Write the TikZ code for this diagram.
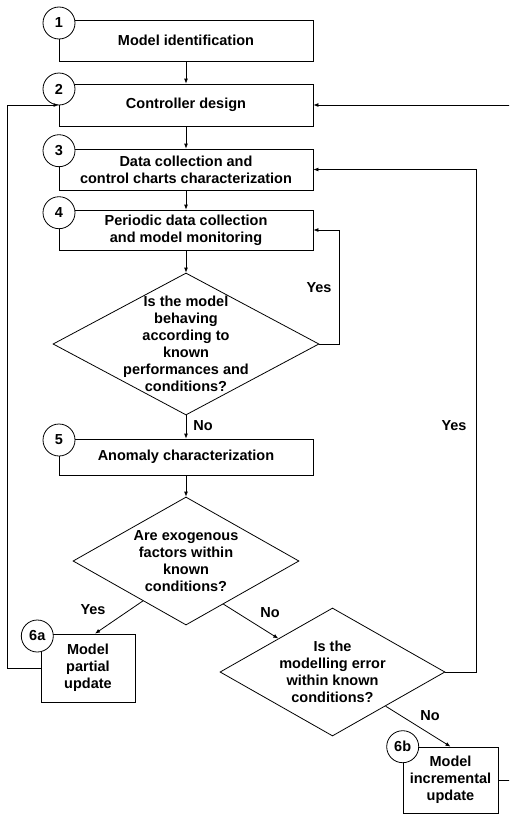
\documentclass[tikz,border=0pt]{standalone}
\usepackage{fontspec}
\setmainfont{Liberation Sans}
\usetikzlibrary{shapes.geometric,arrows.meta,calc}
\tikzset{
  procbox/.style={draw, line width=0.8pt, rectangle, minimum width=254pt, align=center, inner sep=0pt},
  decide/.style={draw, line width=0.8pt, diamond, inner sep=0pt},
  qtext/.style={align=center, inner sep=0pt},
  stepnum/.style={draw, line width=0.8pt, circle, fill=white, minimum size=32pt, inner sep=0pt},
  flow/.style={line width=0.8pt, -{Latex[length=5pt,width=4pt]}},
  answer/.style={inner sep=0pt},
}
\begin{document}
\begin{tikzpicture}[x=1pt, y=-1pt, font=\bfseries\fontsize{14.5}{17}\selectfont]
  \useasboundingbox (0,0) rectangle (509,819);
  \clip (0,0) rectangle (509,819);
  % main steps
  \node[procbox, minimum height=41pt] (b1) at (186,40.5) {Model identification};
  \node[procbox, minimum height=42pt] (b2) at (186,105) {Controller design};
  \node[procbox, minimum height=41pt] (b3) at (186,169.5) {Data collection and\\control charts characterization};
  \node[procbox, minimum height=40pt] (b4) at (186,230) {Periodic data collection\\and model monitoring};
  \node[decide, minimum width=266pt, minimum height=142pt] (q1) at (186,344) {};
  \node[qtext] (q1t) at (q1) {Is the model\\behaving\\according to\\known\\performances and\\conditions?};
  \node[procbox, minimum height=36pt] (b5) at (186,457) {Anomaly characterization};
  \node[decide, minimum width=226pt, minimum height=128pt] (q2) at (186,561) {};
  \node[qtext] (q2t) at (q2) {Are exogenous\\factors within\\known\\conditions?};
  \node[decide, minimum width=225pt, minimum height=128pt] (q3) at (332.5,672) {};
  \node[qtext] (q3t) at (q3) {Is the\\modelling error\\within known\\conditions?};
  \node[procbox, minimum width=94pt, minimum height=68pt] (b6a) at (88,668) {Model\\partial\\update};
  \node[procbox, minimum width=95pt, minimum height=66pt] (b6b) at (450.5,780) {Model\\incremental\\update};
  % step numbers
  \foreach \n/\y in {1/23,2/89,3/150.7,4/212.7,5/440}
    \node[stepnum] (s\n) at (59,\y) {\n};
  \node[stepnum] (s6a) at (37.3,636) {6a};
  \node[stepnum] (s6b) at (402.7,746.7) {6b};
  % connectors
  \draw[flow] (b1) to (b2);
  \draw[flow] (b2) to (b3);
  \draw[flow] (b3) to (b4);
  \draw[flow] (b4) to (q1);
  \draw[flow] (q1.east) -- (339,344) |- (b4.east);
  \node[answer] (yes1) at (319,288) {Yes};
  \draw[flow] (q1) to (b5);
  \node[answer] (no1) at (203,426) {No};
  \draw[flow] (b5) to (q2);
  \draw[flow] ($(q2.west)!0.62!(q2.south)$) to ([xshift=7pt]b6a.north);
  \node[answer] (yes2) at (93,610) {Yes};
  \draw[flow] ($(q2.south)!0.33!(q2.east)$) to ($(q3.west)!0.52!(q3.north)$);
  \node[answer] (no2) at (270,613) {No};
  \draw[flow] (q3.east) -- (476,672) |- (b3.east);
  \node[answer] (yes3) at (454,426) {Yes};
  \draw[flow] ($(q3.south)!0.47!(q3.east)$) to (b6b.north);
  \node[answer] (no3) at (430,716) {No};
  % feedback to controller design
  \draw[flow] (b6a.west) -- (7,668) |- (b2.west);
  \draw[flow] (b6b.east) -- (514,780) |- (b2.east);
\end{tikzpicture}
\end{document}
